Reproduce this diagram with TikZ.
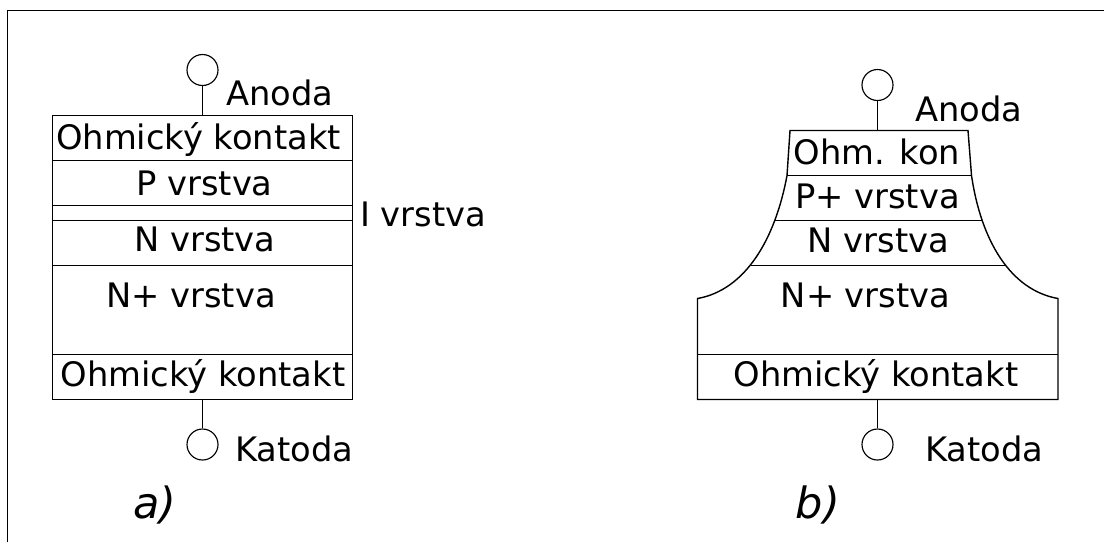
\documentclass[tikz,border=0pt]{standalone}
\usepackage{fontspec}
\setmainfont{DejaVu Sans}
\usepackage{tikz}
\usetikzlibrary{positioning}

\begin{document}
\begin{tikzpicture}[x=0.02cm,y=-0.02cm]

\tikzset{layertext/.style = {inner sep=0pt,anchor=base,font=\fontsize{19.2}{22}\selectfont}}
\tikzset{terminal/.style = {shape=circle,draw,inner sep=0pt,minimum size=31*0.02cm,line width=0.65pt}}
\tikzset{wire/.style = {line width=0.8pt}}
\tikzset{layer/.style = {line width=0.8pt}}
\tikzset{caption/.style = {inner sep=0pt,anchor=base,font=\fontsize{24.5}{28}\itshape\selectfont}}

\useasboundingbox (0,0) rectangle (1104,542);

% frame
\coordinate (fsw) at (7.5,542);
\coordinate (fnw) at (7.5,10.5);
\coordinate (fne) at (1104,10.5);
\draw[line width=1pt] (fsw) -- (fnw) -- (fne);

% diode a
\draw[layer] (52.5,115.5) rectangle (352.5,399.5);
\draw[layer] (52.5,160.5) -- (352.5,160.5);
\draw[layer] (52.5,205.5) -- (352.5,205.5);
\draw[layer] (52.5,220.5) -- (352.5,220.5);
\draw[layer] (52.5,265.5) -- (352.5,265.5);
\draw[layer] (52.5,354.5) -- (352.5,354.5);
\coordinate (atop) at (202.5,115.5);
\coordinate (abot) at (202.5,399.5);

\node[terminal] (aanode) at (202.5,70) {};
\node[terminal] (acathode) at (202.5,444.5) {};
\draw[wire] (aanode) -- (atop);
\draw[wire] (abot) -- (acathode);

\node[layertext] (alabel1) at (198.5,149.5) {Ohmický kontakt};
\node[layertext] (alabel2) at (204.5,195.5) {P vrstva};
\node[layertext] (alabel3) at (205,251) {N vrstva};
\node[layertext] (alabel4) at (191,307.5) {N+ vrstva};
\node[layertext] (alabel5) at (203,386) {Ohmický kontakt};
\node[layertext] (alabel6) at (423,226) {I vrstva};
\node[layertext] (aanodetext) at (280,105.5) {Anoda};
\node[layertext] (acathodetext) at (294.5,461) {Katoda};
\node[caption] (acap) at (155,518) {a)};

% diode b
\draw[layer] (697.5,399.5) -- (697.5,298.5)
  .. controls (745,290) and (775,240) .. (787,175.5)
  -- (790,130.5) -- (968,130.5) -- (971.5,175.5)
  .. controls (981,240) and (1010,290) .. (1058,298.5)
  -- (1058,399.5) -- cycle;
\draw[layer] (787,175.5) -- (971.5,175.5);
\draw[layer] (775,220.5) -- (983,220.5);
\draw[layer] (751,265.5) -- (1005,265.5);
\draw[layer] (697.5,354.5) -- (1058,354.5);
\coordinate (btop) at (877.5,130.5);
\coordinate (bbot) at (877.5,399.5);

\node[terminal] (banode) at (877.5,85) {};
\node[terminal] (bcathode) at (877.5,444.5) {};
\draw[wire] (banode) -- (btop);
\draw[wire] (bbot) -- (bcathode);

\node[layertext] (blabel1) at (877,164) {Ohm. kon};
\node[layertext] (blabel2) at (877.5,208) {P+ vrstva};
\node[layertext] (blabel3) at (878.5,252) {N vrstva};
\node[layertext] (blabel4) at (865.5,307.5) {N+ vrstva};
\node[layertext] (blabel5) at (876,386) {Ohmický kontakt};
\node[layertext] (banodetext) at (969,121) {Anoda};
\node[layertext] (bcathodetext) at (984.5,461) {Katoda};
\node[caption] (bcap) at (818,518) {b)};
\end{tikzpicture}
\end{document}
